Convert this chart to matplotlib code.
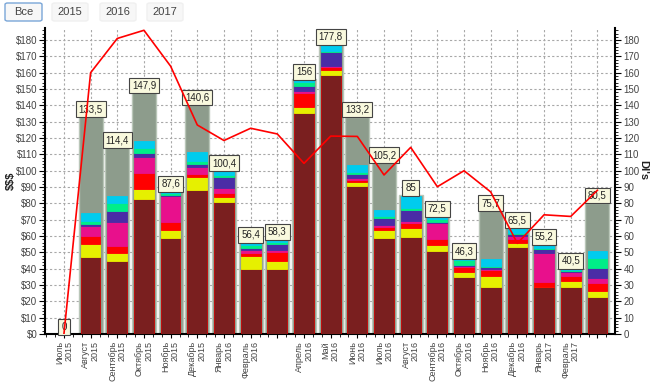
import matplotlib
matplotlib.use("Agg")
import matplotlib.pyplot as plt
from matplotlib.patches import FancyBboxPatch
from matplotlib.ticker import MultipleLocator, FuncFormatter
import numpy as np

plt.rcParams['font.family'] = ['Liberation Sans', 'DejaVu Sans']

months = ["Июль\n2015", "Август\n2015", "Сентябрь\n2015", "Октябрь\n2015", "Ноябрь\n2015",
          "Декабрь\n2015", "Январь\n2016", "Февраль\n2016", "", "Апрель\n2016", "Май\n2016",
          "Июнь\n2016", "Июль\n2016", "Август\n2016", "Сентябрь\n2016", "Октябрь\n2016",
          "Ноябрь\n2016", "Декабрь\n2016", "Январь\n2017", "Февраль\n2017", ""]

totals = [0, 133.5, 114.4, 147.9, 87.6, 140.6, 100.4, 56.4, 58.3, 156, 177.8, 133.2,
          105.2, 85, 72.5, 46.3, 75.7, 65.5, 55.2, 40.5, 80.5]

seg_maroon  = [0, 47.0, 44.7, 82.5, 58.6, 88.2, 80.6, 39.8, 39.8, 135.5, 158.6, 90.8, 59.0, 59.6, 51.0, 35.1, 29.0, 53.5, 29.0, 29.0, 22.9]
seg_yellow  = [0, 8.0, 4.7, 6.1, 5.1, 7.7, 3.5, 8.0, 4.9, 3.3, 3.1, 2.1, 4.7, 5.5, 3.5, 2.7, 6.7, 2.0, 0.0, 3.3, 3.4]
seg_red     = [0, 5.0, 4.5, 9.8, 5.1, 2.1, 2.4, 1.6, 5.7, 9.0, 1.6, 1.4, 2.0, 3.1, 3.5, 3.0, 3.5, 2.5, 3.0, 3.4, 4.7]
seg_magenta = [0, 6.0, 14.5, 10.2, 15.7, 4.5, 2.7, 2.0, 1.0, 1.0, 0.8, 1.4, 1.0, 1.0, 10.2, 1.0, 0.6, 2.2, 17.4, 2.5, 3.1]
seg_purple  = [0, 1.5, 7.1, 2.0, 0.5, 1.6, 6.7, 1.5, 3.5, 3.1, 8.4, 2.1, 4.5, 6.7, 0.5, 0.5, 1.4, 0.8, 2.5, 0.6, 6.1]
seg_green   = [0, 1.5, 4.5, 3.5, 1.3, 1.8, 1.5, 1.4, 1.6, 2.6, 1.0, 1.6, 1.1, 1.5, 1.5, 3.0, 0.6, 0.6, 0.5, 0.5, 6.1]
seg_cyan    = [0, 5.0, 4.7, 4.3, 1.3, 5.3, 3.0, 2.2, 1.7, 1.0, 4.5, 4.1, 3.6, 7.3, 2.3, 1.0, 4.1, 3.7, 3.0, 1.2, 4.5]

dis = [0, 160, 181, 186, 164, 128, 118.5, 126, 122.5, 104.5, 121.2, 121, 97.4, 114.3,
       90.2, 100, 87, 55.5, 73, 72, 88]

seg_colors = ["#7a1f1f", "#e6f000", "#ff0000", "#e8108c", "#4a2ca6", "#00ee88", "#00ccee"]

fig = plt.figure(figsize=(6.5, 3.84), dpi=100)
fig.patch.set_facecolor("white")
ax = fig.add_axes([45 / 650, 1 - 334 / 384, 570 / 650, 306 / 384])
x = np.arange(len(totals))

ax.set_xlim(-0.71, 20.66)
ax.set_ylim(0, 187.4)
ax.set_axisbelow(True)
ax.grid(True, which="major", ls=(0, (2, 2)), color="#a8a8a8", lw=0.8)

# background totals
ax.bar(x, totals, width=0.9, color="#8d9c8c", edgecolor="#b9c6b8", linewidth=1.0, zorder=2)

bottom = np.zeros(len(totals))
for seg, col in zip([seg_maroon, seg_yellow, seg_red, seg_magenta, seg_purple, seg_green, seg_cyan], seg_colors):
    seg = np.array(seg)
    ec = "#cc0000" if col == "#7a1f1f" else col
    ax.bar(x, seg, width=0.74, bottom=bottom, color=col, edgecolor=ec, linewidth=0.6, zorder=3)
    bottom += seg

for xi, t in zip(x, totals):
    lab = f"{t:g}".replace(".", ",")
    ax.annotate(lab, (xi, t), xytext=(0, 7), textcoords="offset pixels",
                ha="center", va="center", fontsize=7, color="#222222", zorder=6,
                bbox=dict(boxstyle="square,pad=0.3", fc="#f9f9de", ec="#444444", lw=0.8))

tickfont = dict(family=['Liberation Sans Narrow', 'Liberation Sans', 'DejaVu Sans'])
ax.set_xticks(x)
ax.set_xticklabels(months, rotation=90, fontsize=6.5, color="#444444",
                   va="top", ha="center", multialignment="right", linespacing=1.05, **tickfont)
ax.xaxis.set_minor_locator(MultipleLocator(1 / 3))
ax.tick_params(axis="x", which="major", length=3, pad=2)
ax.tick_params(axis="x", which="minor", length=2)

ax.yaxis.set_major_locator(MultipleLocator(10))
ax.yaxis.set_minor_locator(MultipleLocator(2))
ax.yaxis.set_major_formatter(FuncFormatter(lambda v, p: f"${int(v)}"))
ax.tick_params(axis="y", which="major", labelsize=7, labelcolor="#444444", length=4, pad=1.5)
ax.tick_params(axis="y", which="minor", length=2)
for t in ax.get_yticklabels():
    t.set_family(tickfont['family'])

for s in ["top", "right"]:
    ax.spines[s].set_visible(False)
ax.spines["left"].set_linewidth(1.5)
ax.spines["bottom"].set_linewidth(1.5)

ax2 = ax.twinx()
ax2.set_ylim(0, 187.4)
ax2.plot(x, dis, color="#ff0000", lw=1.2, zorder=5)
ax2.yaxis.set_major_locator(MultipleLocator(10))
ax2.yaxis.set_minor_locator(MultipleLocator(2))
ax2.tick_params(axis="y", which="major", labelsize=7, labelcolor="#444444", length=4, pad=2)
ax2.tick_params(axis="y", which="minor", length=2)
for t in ax2.get_yticklabels():
    t.set_family(tickfont['family'])
for s in ["top", "left", "bottom"]:
    ax2.spines[s].set_visible(False)
ax2.spines["right"].set_linewidth(1.5)

fig.text(11 / 650, 1 - 181 / 384, "$$$", rotation=90, fontsize=8, fontweight="bold",
         ha="center", va="center", color="#222222")
fig.text(643 / 650, 1 - 170 / 384, "DI's", rotation=270, fontsize=8, fontweight="bold",
         ha="center", va="center", color="#222222")

# range selector buttons
buttons = [("Все", 5, 42, True), ("2015", 52, 88, False), ("2016", 100, 136, False), ("2017", 147, 183, False)]
for lab, x0, x1, sel in buttons:
    p = FancyBboxPatch((x0 / 650, 1 - 21 / 384), (x1 - x0) / 650, 18 / 384,
                       boxstyle="round,pad=0,rounding_size=0.004", transform=fig.transFigure,
                       fc="#f7f7f7", ec="#7aa6d8" if sel else "#f0f0f0", lw=1.0)
    fig.patches.append(p)
    fig.text((x0 + x1) / 2 / 650, 1 - 12 / 384, lab, ha="center", va="center",
             fontsize=8, color="#444444")

fig.savefig("out.png", dpi=100)
